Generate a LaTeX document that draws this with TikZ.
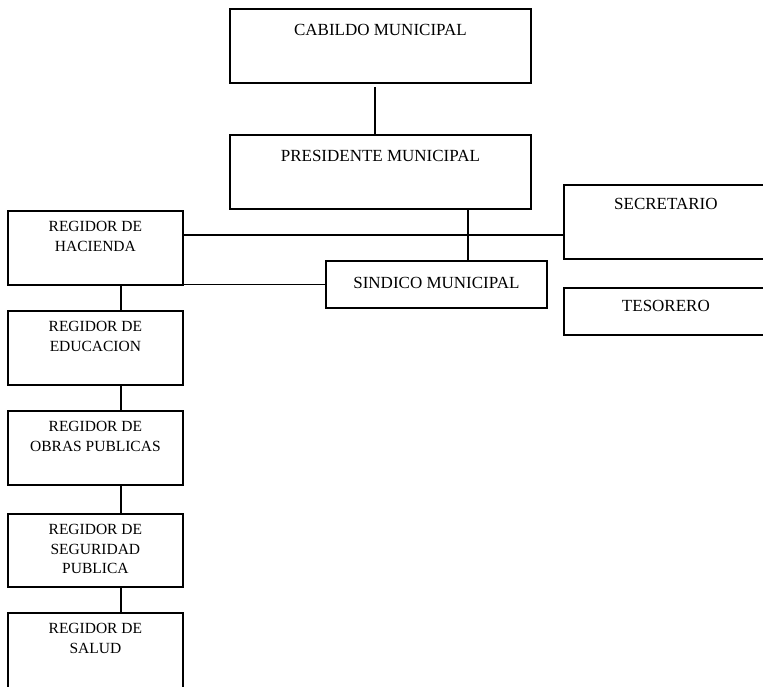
\documentclass[tikz,border=0pt]{standalone}
\usepackage{fontspec}
\setmainfont{Liberation Serif}
\usetikzlibrary{positioning,calc}
\tikzset{
    box/.style={rectangle, draw=black, line width=1.8pt, fill=white, inner sep=0pt, align=center, anchor=north west},
    link/.style={draw=black, line width=1.8pt}
}

\begin{document}
\begin{tikzpicture}[
        x=1pt, y=-1pt,
        % --- STYLE DE TEXTO ---
        bigtext/.style={font=\fontsize{17}{20}\selectfont},
        smalltext/.style={font=\fontsize{15.5}{19.5}\selectfont},
        % Columna de regidores (dos lineas)
        regbox/.style={box, smalltext, minimum width=175pt, text height=40.5pt, text depth=33.5pt}
    ]

        \useasboundingbox (0,0) rectangle (763,687);

        % --- CABILDO Y PRESIDENTE ---
        \node[box, bigtext, minimum width=301pt, text height=27pt, text depth=47pt] (cab) at (229,8) {CABILDO MUNICIPAL};
        \node[box, bigtext, minimum width=301pt, text height=27pt, text depth=47pt] (pres) at (229,134) {PRESIDENTE MUNICIPAL};

        % --- SECRETARIO, TESORERO, SINDICO ---
        \node[box, bigtext, minimum width=204pt, text height=25pt, text depth=49pt] (sec) at (563,184) {SECRETARIO};
        \node[box, bigtext, minimum width=204pt, text height=24pt, text depth=23pt] (tes) at (563,287) {TESORERO};
        \node[box, bigtext, minimum width=221pt, text height=28pt, text depth=19pt] (sind) at (325,260) {SINDICO MUNICIPAL};

        % --- REGIDORES ---
        \node[regbox] (hac) at (7,210) {REGIDOR DE\\HACIENDA};
        \node[regbox] (edu) at (7,310) {REGIDOR DE\\EDUCACION};
        \node[regbox] (obr) at (7,410) {REGIDOR DE\\OBRAS PUBLICAS};
        \node[regbox, text height=60pt, text depth=13pt] (seg) at (7,513) {REGIDOR DE\\SEGURIDAD\\PUBLICA};
        \node[regbox, text depth=39.5pt] (sal) at (7,612) {REGIDOR DE\\SALUD};

        % --- LINEAS ---
        \draw[link] ([xshift=-5.5pt,yshift=-3pt]cab.south) -- ([xshift=-5.5pt]pres.north);
        \draw[link] ([xshift=87.5pt]pres.south) -- ([xshift=87.5pt]pres.south |- sind.north);
        \draw[link] ([yshift=13pt]hac.east) -- ([yshift=13pt]hac.east -| sec.west);
        \draw[link] (hac.east |- sind.west) -- (sind.west);

        \foreach \a/\b in {hac/edu, edu/obr, obr/seg, seg/sal} {
            \draw[link] ([xshift=25.5pt]\a.south) -- ([xshift=25.5pt]\b.north);
        }

    \end{tikzpicture}
\end{document}
